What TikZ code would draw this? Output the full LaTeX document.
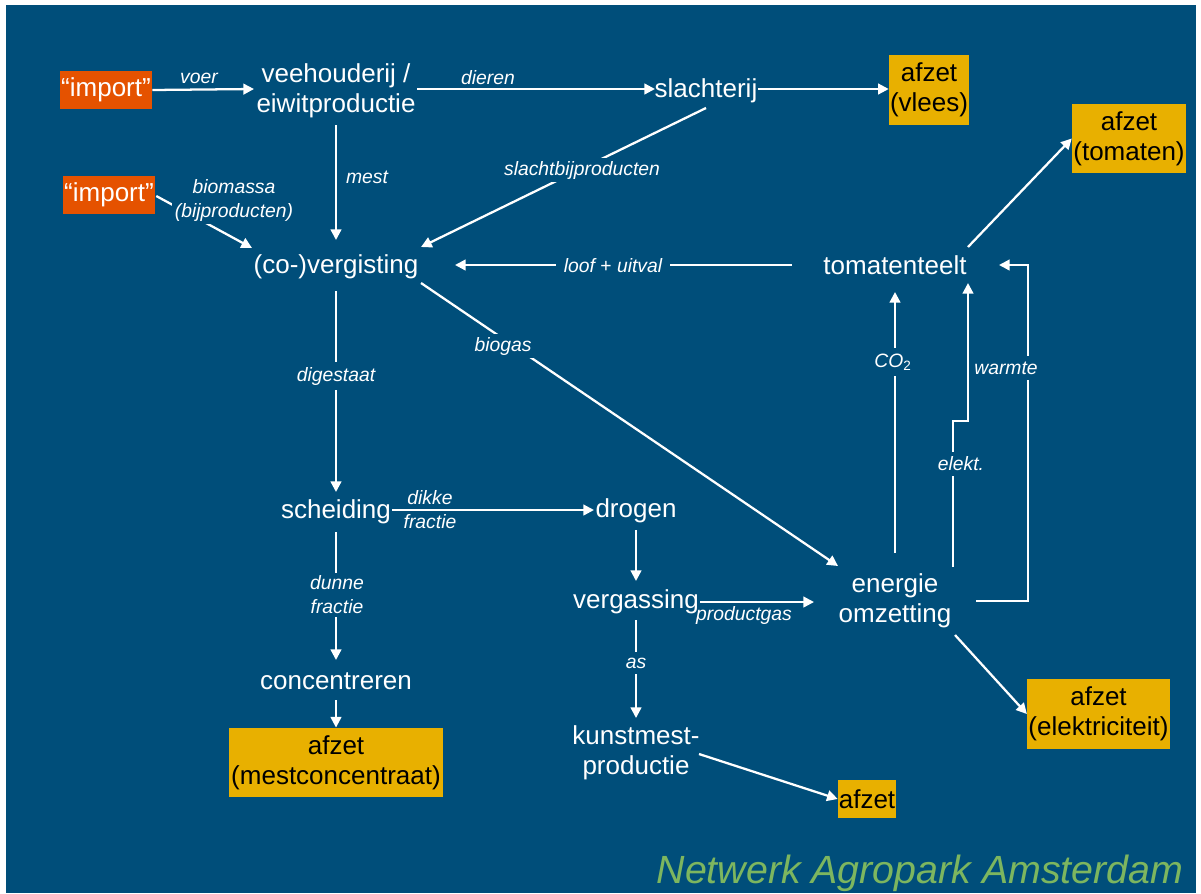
\documentclass[tikz,border=0pt]{standalone}
\usepackage{fontspec}
\setmainfont{Liberation Sans}
\usetikzlibrary{calc,arrows.meta}
\definecolor{bgblue}{RGB}{0,78,122}
\definecolor{imporange}{RGB}{229,82,0}
\definecolor{afzgold}{RGB}{232,176,0}
\definecolor{titlegreen}{RGB}{125,182,95}
\begin{document}
\begin{tikzpicture}[x=0.75pt,y=-0.75pt,
  proc/.style={text=white,inner sep=0pt,align=center,font=\fontsize{19.5}{22.5}\selectfont},
  imp/.style={fill=imporange,text=white,inner sep=0pt,minimum width=69pt,minimum height=28.5pt,font=\fontsize{19.5}{22.5}\selectfont},
  afz/.style={fill=afzgold,text=black,inner sep=0pt,align=center,font=\fontsize{19.5}{22.5}\selectfont},
  lbl/.style={text=white,inner sep=2pt,align=center,font=\fontsize{14.5}{18}\selectfont\itshape},
  cut/.style={lbl,fill=bgblue},
  arr/.style={draw=white,line width=1.7pt,-{Triangle[length=8pt,width=8pt]}}
]
\fill[white] (0,0) rectangle (1201,893);
\fill[bgblue] (6,5) rectangle (1196,893);
\useasboundingbox (0,0) rectangle (1201,893);

% main nodes
\node[imp] (imp1) at (106,90) {“import”};
\node[imp] (imp2) at (109,195) {“import”};
\node[proc] (vee) at (336,91) {veehouderij /\\eiwitproductie};
\node[proc] (sla) at (706,91) {slachterij};
\node[afz,minimum width=60pt,minimum height=52.5pt] (vlees) at (929,90) {afzet\\(vlees)};
\node[afz,minimum width=85.5pt,minimum height=52pt] (tomaten) at (1129,138.5) {afzet\\(tomaten)};
\node[proc] (covg) at (336,267) {(co-)vergisting};
\node[proc] (tom) at (895,265) {tomatenteelt};
\node[proc] (sch) at (336,512) {scheiding};
\node[proc] (dro) at (636,511) {drogen};
\node[proc] (verg) at (636,602) {vergassing};
\node[proc] (ener) at (895,601) {energie\\omzetting};
\node[proc] (conc) at (336,681) {concentreren};
\node[afz,minimum width=160.5pt,minimum height=52pt] (mestc) at (336,762.5) {afzet\\(mestconcentraat)};
\node[proc] (kunst) at (636,753) {kunstmest-\\productie};
\node[afz,minimum width=107pt,minimum height=52.5pt] (elek) at (1098.5,714) {afzet\\(elektriciteit)};
\node[afz,minimum width=43.5pt,minimum height=28.5pt] (afz) at (867,799) {afzet};

% connectors
\draw[arr] (imp1.east) -- ($(vee)+(-82,-2)$);
\draw[arr] ($(vee)+(81,-2)$) -- ($(sla)+(-51,-2)$);
\draw[arr] ($(sla)+(52,-2)$) -- ($(vlees.west)+(0,-1)$);
\draw[arr] ($(vee)+(0,34)$) -- ($(covg)+(0,-27)$);
\draw[arr] ($(imp2.east)+(1,1)$) -- ($(covg)+(-84,-19)$);
\draw[arr] ($(sla)+(0,17)$) -- ($(covg)+(85,-20)$);
\draw[arr] ($(tom)+(-103,0)$) -- ($(covg)+(119,-2)$);
\draw[arr] ($(tom)+(73,-18)$) -- (tomaten.west);
\draw[arr] ($(covg)+(85,16)$) -- ($(ener)+(-57,-35)$);
\draw[arr] ($(covg)+(0,24)$) -- ($(sch)+(0,-20)$);
\draw[arr] ($(sch)+(56,-2)$) -- ($(dro)+(-42,-1)$);
\draw[arr] ($(dro)+(0,19)$) -- ($(verg)+(0,-21)$);
\draw[arr] ($(verg)+(64,0)$) -- ($(ener)+(-81,1)$);
\draw[arr] ($(ener)+(0,-48)$) -- ($(tom)+(0,27)$);
\draw[arr] ($(ener)+(58,-34)$) -- ($(tom)+(58,156)$) -- ($(tom)+(73,156)$) -- ($(tom)+(73,18)$);
\draw[arr] ($(ener)+(81,0)$) -- ($(ener)+(133,0)$) -- ($(tom)+(133,0)$) -- ($(tom)+(104,0)$);
\draw[arr] ($(ener)+(60,34)$) -- (elek.west);
\draw[arr] ($(sch)+(0,20)$) -- ($(conc)+(0,-21)$);
\draw[arr] ($(conc)+(0,19)$) -- (mestc.north);
\draw[arr] ($(verg)+(0,18)$) -- ($(kunst)+(0,-35)$);
\draw[arr] ($(kunst)+(63,1)$) -- (afz.west);

% labels
\node[lbl] (lvoer) at (199,78) {voer};
\node[lbl] (ldier) at (488,78) {dieren};
\node[lbl] (lmest) at (367,177) {mest};
\node[cut] (lbio) at (234,200) {biomassa\\(bijproducten)};
\node[cut] (lslacht) at (582,170) {slachtbijproducten};
\node[cut,inner xsep=6pt] (lloof) at (613,266) {loof {\upshape +} uitval};
\node[cut] (lbiog) at (503,346) {biogas};
\node[cut,inner ysep=4pt] (ldig) at (336,376) {digestaat};
\node[lbl] (ldikke) at (430,510) {dikke\\fractie};
\node[cut] (ldunne) at (337,595) {dunne\\fractie};
\node[lbl] (lprod) at (744,615) {productgas};
\node[cut,inner ysep=4pt] (lco) at (893,362) {CO\textsubscript{\upshape 2}};
\node[cut,inner ysep=4pt] (lelek) at (961,464) {elekt.};
\node[cut,inner ysep=4pt] (lwarm) at (1006,368) {warmte};
\node[cut,inner ysep=4pt] (las) at (636,663) {as};

\node[font=\fontsize{29.5}{34}\selectfont\itshape,text=titlegreen,anchor=base,inner sep=0pt] (title) at (920,883) {Netwerk Agropark Amsterdam};
\end{tikzpicture}
\end{document}
